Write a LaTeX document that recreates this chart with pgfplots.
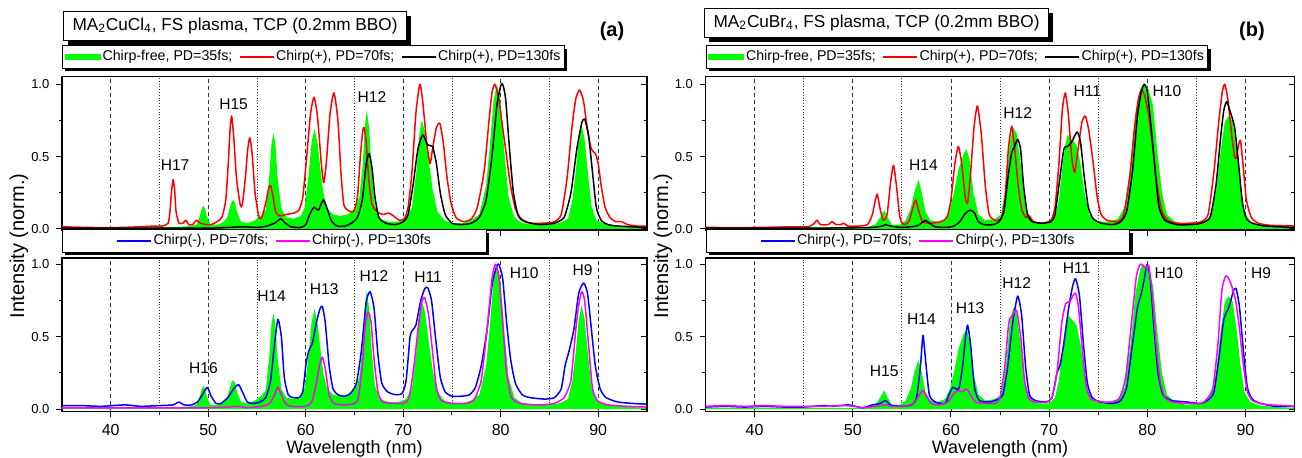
\documentclass[border=0pt]{standalone}
\usepackage{fontspec}
\setmainfont{Liberation Sans}
\usepackage{pgfplots}
\usepackage{pgfplotstable}
\pgfplotsset{compat=1.18}
\usetikzlibrary{shadows}

\definecolor{cfgreen}{RGB}{0,255,0}
\definecolor{cmag}{RGB}{255,0,255}
\newcommand\hfont{\fontsize{7.8}{9}\selectfont}
\makeatletter
\tikzset{noshadow/.code={\let\tikz@preactions\pgfutil@empty}}
\makeatother

% ---------- panel (a) ----------
\pgfplotstableread[row sep=\\]{x y\\
35 0.01\\ 40 0.01\\ 45 0.012\\ 47 0.015\\ 48.2 0.02\\ 48.8 0.03\\ 49.15 0.09\\ 49.33 0.14\\ 49.5 0.16\\ 49.67 0.14\\ 49.85 0.09\\ 50.2 0.03\\
51.0 0.03\\ 51.6 0.05\\ 51.95 0.08\\ 52.15 0.13\\ 52.35 0.18\\ 52.55 0.20\\ 52.75 0.18\\ 52.95 0.12\\ 53.35 0.05\\ 54.0 0.04\\ 54.8 0.06\\
55.4 0.09\\ 55.9 0.13\\ 56.25 0.36\\ 56.5 0.6\\ 56.7 0.66\\ 56.9 0.58\\ 57.1 0.36\\ 57.5 0.14\\ 58.0 0.08\\ 58.8 0.07\\ 59.5 0.09\\
59.9 0.15\\ 60.3 0.38\\ 60.6 0.6\\ 60.9 0.69\\ 61.2 0.6\\ 61.5 0.42\\ 61.8 0.25\\ 62.2 0.14\\ 62.8 0.10\\ 63.5 0.09\\ 64.3 0.10\\ 65.0 0.14\\
65.5 0.22\\ 65.85 0.45\\ 66.05 0.7\\ 66.26 0.82\\ 66.5 0.7\\ 66.75 0.42\\ 67.1 0.16\\ 67.6 0.07\\ 68.5 0.05\\ 69.5 0.05\\ 70.3 0.07\\
70.9 0.15\\ 71.35 0.4\\ 71.65 0.65\\ 71.9 0.75\\ 72.2 0.68\\ 72.6 0.48\\ 73.0 0.28\\ 73.5 0.12\\ 74.2 0.06\\ 75 0.04\\ 76 0.04\\ 77 0.06\\
77.8 0.1\\ 78.5 0.3\\ 78.85 0.55\\ 79.25 0.88\\ 79.6 1.0\\ 79.95 0.9\\ 80.35 0.55\\ 80.8 0.22\\ 81.4 0.08\\ 82.2 0.04\\ 84 0.03\\ 86 0.04\\
86.9 0.07\\ 87.35 0.2\\ 87.7 0.4\\ 88.0 0.62\\ 88.3 0.72\\ 88.6 0.62\\ 88.95 0.38\\ 89.3 0.16\\ 89.8 0.06\\ 90.5 0.04\\ 92 0.02\\ 95 0.01\\
}\greenA

\pgfplotstableread[row sep=\\]{x y\\
35 0.015\\ 38 0.01\\ 41 0.01\\ 43 0.015\\ 44.5 0.02\\ 45.3 0.02\\ 45.9 0.04\\ 46.1 0.14\\ 46.25 0.27\\ 46.4 0.34\\ 46.55 0.27\\ 46.7 0.12\\
47.0 0.04\\ 47.4 0.04\\ 47.7 0.06\\ 48.0 0.03\\ 48.4 0.03\\ 48.8 0.06\\ 49.2 0.04\\ 49.8 0.03\\ 50.3 0.03\\ 50.9 0.05\\ 51.4 0.08\\ 51.8 0.2\\
52.05 0.45\\ 52.25 0.7\\ 52.4 0.78\\ 52.6 0.65\\ 52.9 0.35\\ 53.3 0.16\\ 53.5 0.17\\ 53.8 0.35\\ 54.05 0.55\\ 54.26 0.63\\ 54.5 0.52\\
54.8 0.25\\ 55.2 0.08\\ 55.5 0.08\\ 55.9 0.18\\ 56.2 0.28\\ 56.4 0.30\\ 56.6 0.24\\ 56.9 0.12\\ 57.3 0.09\\ 58.0 0.1\\ 58.8 0.11\\ 59.3 0.13\\
59.7 0.22\\ 60.1 0.5\\ 60.5 0.8\\ 60.85 0.91\\ 61.2 0.78\\ 61.6 0.45\\ 61.85 0.32\\ 62.1 0.45\\ 62.5 0.8\\ 62.9 0.94\\ 63.3 0.75\\ 63.6 0.4\\
63.9 0.17\\ 64.3 0.13\\ 64.9 0.12\\ 65.3 0.22\\ 65.6 0.5\\ 65.85 0.68\\ 66.0 0.70\\ 66.2 0.6\\ 66.45 0.35\\ 66.8 0.17\\ 67.3 0.12\\ 67.9 0.1\\
68.5 0.11\\ 69.0 0.09\\ 69.6 0.06\\ 70.1 0.07\\ 70.5 0.15\\ 70.9 0.4\\ 71.3 0.8\\ 71.7 1.0\\ 72.0 0.88\\ 72.4 0.6\\ 72.75 0.45\\ 73.0 0.55\\
73.4 0.7\\ 73.75 0.73\\ 74.1 0.6\\ 74.5 0.35\\ 74.9 0.18\\ 75.4 0.08\\ 76.2 0.05\\ 77.0 0.07\\ 77.6 0.15\\ 78.3 0.4\\ 78.8 0.75\\ 79.1 0.94\\
79.4 1.0\\ 79.8 0.9\\ 80.2 0.7\\ 80.6 0.5\\ 81.0 0.3\\ 81.5 0.14\\ 82.1 0.07\\ 83 0.04\\ 84.5 0.04\\ 85.5 0.05\\ 86.2 0.1\\ 86.8 0.35\\
87.3 0.7\\ 87.7 0.9\\ 88.1 0.96\\ 88.5 0.88\\ 88.9 0.68\\ 89.3 0.55\\ 89.7 0.52\\ 90.0 0.45\\ 90.3 0.3\\ 90.7 0.15\\ 91.2 0.08\\ 91.8 0.05\\
92.4 0.05\\ 93 0.03\\ 94 0.02\\ 95 0.02\\
}\redA

\pgfplotstableread[row sep=\\]{x y\\
35 0.005\\ 45 0.005\\ 50 0.005\\ 52 0.01\\ 53.5 0.015\\ 55 0.01\\ 56 0.02\\ 56.8 0.04\\ 57.45 0.07\\ 57.9 0.04\\ 58.5 0.015\\ 59.5 0.01\\
60.0 0.03\\ 60.4 0.1\\ 60.85 0.15\\ 61.3 0.13\\ 61.8 0.2\\ 62.2 0.14\\ 62.6 0.06\\ 63.2 0.02\\ 64.0 0.02\\ 64.7 0.04\\ 65.3 0.08\\ 65.8 0.2\\
66.2 0.45\\ 66.5 0.52\\ 66.8 0.42\\ 67.1 0.22\\ 67.5 0.08\\ 68.2 0.04\\ 69.2 0.03\\ 70.0 0.05\\ 70.5 0.1\\ 71.0 0.3\\ 71.5 0.55\\ 72.0 0.65\\
72.5 0.58\\ 73.0 0.57\\ 73.4 0.45\\ 73.8 0.25\\ 74.3 0.1\\ 75.0 0.04\\ 76.0 0.03\\ 77.0 0.04\\ 77.8 0.08\\ 78.5 0.2\\ 79.1 0.5\\ 79.6 0.85\\
80.0 0.99\\ 80.2 1.0\\ 80.5 0.9\\ 80.9 0.55\\ 81.3 0.25\\ 81.8 0.09\\ 82.5 0.05\\ 84 0.03\\ 85.5 0.04\\ 86.5 0.08\\ 87.2 0.25\\ 87.8 0.55\\
88.3 0.73\\ 88.6 0.76\\ 89.0 0.65\\ 89.4 0.4\\ 89.8 0.15\\ 90.3 0.06\\ 91 0.03\\ 92 0.02\\ 95 0.01\\
}\blackA

\pgfplotstableread[row sep=\\]{x y\\
35 0.025\\ 37 0.025\\ 39 0.02\\ 41.5 0.03\\ 43 0.02\\ 45 0.025\\ 46.4 0.03\\ 47.0 0.05\\ 47.5 0.03\\ 48.3 0.03\\ 48.9 0.05\\ 49.4 0.1\\
49.9 0.15\\ 50.3 0.09\\ 50.8 0.04\\ 51.3 0.04\\ 52.0 0.08\\ 52.6 0.14\\ 53.1 0.17\\ 53.5 0.12\\ 54.0 0.05\\ 54.6 0.04\\ 55.3 0.05\\ 55.9 0.08\\
56.4 0.2\\ 56.8 0.45\\ 57.15 0.62\\ 57.5 0.5\\ 57.8 0.22\\ 58.2 0.1\\ 58.7 0.08\\ 59.3 0.08\\ 59.7 0.12\\ 60.0 0.3\\ 60.3 0.4\\ 60.7 0.46\\
61.1 0.6\\ 61.45 0.69\\ 61.7 0.71\\ 62.0 0.6\\ 62.4 0.3\\ 62.8 0.14\\ 63.3 0.1\\ 64.0 0.09\\ 64.6 0.11\\ 65.2 0.18\\ 65.7 0.4\\ 66.2 0.74\\
66.6 0.81\\ 67.0 0.7\\ 67.4 0.38\\ 67.8 0.18\\ 68.4 0.12\\ 69.2 0.1\\ 69.9 0.11\\ 70.3 0.2\\ 70.7 0.5\\ 71.0 0.55\\ 71.3 0.58\\ 71.8 0.75\\
72.2 0.83\\ 72.5 0.84\\ 72.9 0.75\\ 73.3 0.5\\ 73.8 0.22\\ 74.3 0.12\\ 75 0.09\\ 76 0.09\\ 76.8 0.1\\ 77.4 0.15\\ 78.0 0.3\\ 78.6 0.55\\
79.1 0.85\\ 79.5 0.97\\ 79.8 1.0\\ 80.2 0.9\\ 80.6 0.6\\ 81.0 0.35\\ 81.5 0.18\\ 82.2 0.1\\ 83 0.08\\ 84.5 0.07\\ 85.5 0.08\\ 86.2 0.14\\
86.6 0.3\\ 87.0 0.4\\ 87.5 0.55\\ 88.0 0.8\\ 88.5 0.87\\ 88.9 0.8\\ 89.3 0.55\\ 89.7 0.3\\ 90.2 0.14\\ 90.8 0.08\\ 92 0.05\\ 93.5 0.04\\ 95 0.035\\
}\blueA

\pgfplotstableread[row sep=\\]{x y\\
35 0.01\\ 45 0.01\\ 50 0.01\\ 52 0.015\\ 53 0.02\\ 54 0.01\\ 55.5 0.02\\ 56.3 0.04\\ 56.8 0.1\\ 57.15 0.15\\ 57.5 0.1\\ 57.9 0.04\\ 58.5 0.02\\
60.0 0.02\\ 60.6 0.05\\ 61.0 0.15\\ 61.4 0.3\\ 61.7 0.36\\ 62.0 0.28\\ 62.4 0.1\\ 62.9 0.04\\ 64 0.03\\ 65.0 0.04\\ 65.4 0.08\\ 65.8 0.3\\
66.1 0.58\\ 66.4 0.67\\ 66.7 0.6\\ 67.0 0.35\\ 67.4 0.12\\ 67.9 0.05\\ 69 0.04\\ 70.0 0.04\\ 70.6 0.08\\ 71.1 0.3\\ 71.6 0.6\\ 71.9 0.74\\
72.2 0.77\\ 72.6 0.65\\ 73.0 0.4\\ 73.4 0.15\\ 73.9 0.06\\ 75 0.04\\ 76.5 0.04\\ 77.3 0.07\\ 78.0 0.2\\ 78.6 0.55\\ 79.1 0.9\\ 79.45 1.0\\
79.8 0.92\\ 80.2 0.6\\ 80.6 0.25\\ 81.1 0.08\\ 82 0.04\\ 84 0.03\\ 85.5 0.04\\ 86.5 0.08\\ 87.2 0.2\\ 87.7 0.55\\ 88.0 0.72\\ 88.3 0.81\\
88.6 0.75\\ 89.0 0.45\\ 89.4 0.15\\ 89.9 0.06\\ 91 0.03\\ 93 0.02\\ 95 0.015\\
}\magA

% ---------- panel (b) ----------
\pgfplotstableread[row sep=\\]{x y\\
35 0.01\\ 45 0.01\\ 50 0.01\\ 51.5 0.015\\ 52.3 0.03\\ 52.8 0.08\\ 53.2 0.13\\ 53.55 0.08\\ 54.0 0.03\\ 54.8 0.03\\ 55.4 0.06\\ 55.9 0.14\\
56.3 0.26\\ 56.7 0.34\\ 57.0 0.26\\ 57.4 0.12\\ 57.9 0.06\\ 58.7 0.05\\ 59.4 0.07\\ 59.9 0.14\\ 60.3 0.25\\ 60.8 0.42\\ 61.3 0.52\\ 61.6 0.55\\
61.9 0.48\\ 62.3 0.25\\ 62.8 0.1\\ 63.5 0.06\\ 64.5 0.07\\ 65.1 0.1\\ 65.6 0.3\\ 66.0 0.6\\ 66.35 0.70\\ 66.7 0.66\\ 67.1 0.45\\ 67.5 0.2\\
68.0 0.08\\ 68.8 0.04\\ 70.0 0.04\\ 70.6 0.08\\ 71.0 0.2\\ 71.4 0.45\\ 71.7 0.6\\ 71.9 0.65\\ 72.3 0.62\\ 72.8 0.58\\ 73.2 0.45\\ 73.6 0.25\\
74.1 0.1\\ 74.8 0.05\\ 76 0.05\\ 77 0.07\\ 77.7 0.15\\ 78.3 0.45\\ 78.8 0.8\\ 79.3 0.97\\ 79.6 1.0\\ 80.1 0.97\\ 80.6 0.85\\ 81.0 0.55\\
81.5 0.25\\ 82.0 0.1\\ 82.8 0.05\\ 84 0.03\\ 85.5 0.04\\ 86.4 0.08\\ 87.0 0.25\\ 87.5 0.55\\ 87.9 0.74\\ 88.3 0.78\\ 88.7 0.74\\ 89.1 0.55\\
89.5 0.3\\ 89.9 0.12\\ 90.5 0.05\\ 91.5 0.025\\ 93 0.015\\ 95 0.01\\
}\greenB

\pgfplotstableread[row sep=\\]{x y\\
35 0.01\\ 40 0.01\\ 44 0.015\\ 45.5 0.015\\ 46.1 0.04\\ 46.36 0.06\\ 46.7 0.03\\ 47.5 0.03\\ 47.9 0.05\\ 48.3 0.03\\ 48.8 0.03\\ 49.1 0.04\\
49.5 0.02\\ 50.5 0.02\\ 51.5 0.03\\ 52.0 0.1\\ 52.3 0.2\\ 52.5 0.24\\ 52.75 0.15\\ 53.1 0.06\\ 53.5 0.1\\ 53.85 0.32\\ 54.15 0.44\\ 54.45 0.3\\
54.8 0.08\\ 55.2 0.03\\ 55.7 0.05\\ 56.1 0.14\\ 56.4 0.2\\ 56.7 0.13\\ 57.1 0.05\\ 58.0 0.04\\ 59.0 0.05\\ 59.6 0.08\\ 60.0 0.2\\ 60.4 0.45\\
60.76 0.57\\ 61.1 0.45\\ 61.45 0.22\\ 61.7 0.18\\ 62.0 0.38\\ 62.35 0.7\\ 62.7 0.85\\ 63.1 0.65\\ 63.5 0.3\\ 63.9 0.1\\ 64.5 0.06\\ 65.1 0.07\\
65.5 0.2\\ 65.85 0.55\\ 66.2 0.71\\ 66.5 0.55\\ 66.85 0.3\\ 67.2 0.14\\ 67.6 0.08\\ 68.0 0.09\\ 68.4 0.05\\ 69.3 0.04\\ 70.2 0.06\\ 70.6 0.15\\
71.0 0.45\\ 71.35 0.82\\ 71.65 0.94\\ 71.95 0.8\\ 72.3 0.5\\ 72.6 0.39\\ 72.95 0.55\\ 73.35 0.74\\ 73.7 0.78\\ 74.05 0.68\\ 74.5 0.45\\
74.9 0.22\\ 75.3 0.1\\ 75.9 0.06\\ 77 0.05\\ 77.6 0.1\\ 78.2 0.35\\ 78.7 0.7\\ 79.1 0.9\\ 79.4 0.96\\ 79.7 0.93\\ 80.1 0.8\\ 80.6 0.55\\
81.0 0.3\\ 81.5 0.12\\ 82.1 0.06\\ 83 0.04\\ 84.5 0.04\\ 85.5 0.05\\ 86.2 0.1\\ 86.8 0.4\\ 87.3 0.75\\ 87.65 0.95\\ 87.9 1.0\\ 88.2 0.9\\
88.6 0.65\\ 88.9 0.5\\ 89.07 0.49\\ 89.3 0.58\\ 89.5 0.61\\ 89.75 0.45\\ 90.1 0.2\\ 90.6 0.08\\ 91.3 0.04\\ 92.5 0.025\\ 95 0.02\\
}\redB

\pgfplotstableread[row sep=\\]{x y\\
35 0.005\\ 45 0.005\\ 50 0.008\\ 52 0.01\\ 53.0 0.02\\ 53.4 0.03\\ 53.8 0.02\\ 55 0.01\\ 56.5 0.02\\ 57.0 0.04\\ 57.4 0.06\\ 57.8 0.04\\
58.4 0.015\\ 59.5 0.01\\ 60.3 0.02\\ 60.9 0.05\\ 61.5 0.11\\ 62.0 0.13\\ 62.4 0.11\\ 62.8 0.05\\ 63.4 0.03\\ 64.3 0.03\\ 64.9 0.05\\ 65.4 0.12\\
65.8 0.35\\ 66.2 0.53\\ 66.5 0.57\\ 66.8 0.62\\ 67.1 0.55\\ 67.4 0.3\\ 67.8 0.1\\ 68.3 0.05\\ 69.3 0.04\\ 70.2 0.05\\ 70.6 0.1\\ 71.0 0.3\\
71.5 0.55\\ 71.9 0.57\\ 72.3 0.6\\ 72.85 0.67\\ 73.2 0.6\\ 73.6 0.35\\ 74.0 0.15\\ 74.5 0.07\\ 75.3 0.04\\ 76.5 0.03\\ 77.3 0.05\\ 77.9 0.12\\
78.5 0.4\\ 79.0 0.78\\ 79.4 0.95\\ 79.7 1.0\\ 80.0 0.95\\ 80.4 0.7\\ 80.8 0.4\\ 81.2 0.15\\ 81.8 0.06\\ 83 0.03\\ 84.5 0.03\\ 85.5 0.04\\
86.4 0.08\\ 87.0 0.3\\ 87.5 0.65\\ 87.8 0.82\\ 88.1 0.88\\ 88.5 0.8\\ 88.9 0.7\\ 89.3 0.45\\ 89.7 0.18\\ 90.1 0.07\\ 90.7 0.04\\ 92 0.02\\ 95 0.01\\
}\blackB

\pgfplotstableread[row sep=\\]{x y\\
35 0.015\\ 37 0.02\\ 39 0.015\\ 41 0.02\\ 43 0.015\\ 45 0.015\\ 47 0.025\\ 48 0.02\\ 49.5 0.03\\ 50.3 0.02\\ 51.0 0.01\\ 52.0 0.03\\
52.8 0.04\\ 53.35 0.06\\ 53.8 0.03\\ 55 0.02\\ 56.0 0.03\\ 56.5 0.08\\ 56.9 0.3\\ 57.15 0.51\\ 57.4 0.35\\ 57.8 0.1\\ 58.4 0.05\\ 59.4 0.04\\
59.8 0.1\\ 60.2 0.15\\ 60.8 0.14\\ 61.2 0.3\\ 61.5 0.5\\ 61.7 0.58\\ 62.0 0.45\\ 62.4 0.15\\ 62.9 0.06\\ 64.0 0.05\\ 64.8 0.07\\ 65.3 0.1\\
65.8 0.3\\ 66.3 0.6\\ 66.8 0.78\\ 67.2 0.65\\ 67.6 0.3\\ 68.0 0.1\\ 68.6 0.06\\ 69.7 0.05\\ 70.3 0.08\\ 70.8 0.25\\ 71.1 0.3\\ 71.5 0.45\\
72.0 0.7\\ 72.4 0.85\\ 72.7 0.90\\ 73.1 0.78\\ 73.5 0.45\\ 73.9 0.18\\ 74.4 0.08\\ 75.2 0.05\\ 76.5 0.04\\ 77.3 0.06\\ 77.9 0.15\\ 78.5 0.45\\
79.0 0.7\\ 79.4 0.8\\ 79.7 0.9\\ 80.0 1.0\\ 80.3 0.9\\ 80.7 0.55\\ 81.1 0.25\\ 81.6 0.1\\ 82.5 0.06\\ 84 0.05\\ 85.5 0.04\\ 86.3 0.07\\
86.8 0.12\\ 87.3 0.35\\ 87.8 0.62\\ 88.3 0.7\\ 88.8 0.82\\ 89.07 0.83\\ 89.4 0.7\\ 89.8 0.4\\ 90.2 0.15\\ 90.7 0.07\\ 91.5 0.04\\ 93 0.02\\ 95 0.02\\
}\blueB

\pgfplotstableread[row sep=\\]{x y\\
35 0.02\\ 37 0.025\\ 39 0.02\\ 41 0.025\\ 43 0.02\\ 45 0.02\\ 47 0.02\\ 49 0.025\\ 50.2 0.02\\ 51.0 0.01\\ 52.2 0.02\\ 53.4 0.03\\ 54 0.02\\
55.2 0.02\\ 56.2 0.04\\ 56.8 0.1\\ 57.15 0.13\\ 57.5 0.09\\ 58.0 0.04\\ 58.8 0.03\\ 59.7 0.05\\ 60.2 0.1\\ 60.7 0.13\\ 61.1 0.12\\ 61.6 0.14\\
62.0 0.1\\ 62.5 0.05\\ 63.5 0.04\\ 64.5 0.04\\ 65.0 0.08\\ 65.5 0.3\\ 65.9 0.6\\ 66.3 0.65\\ 66.7 0.68\\ 67.1 0.5\\ 67.5 0.2\\ 67.9 0.08\\
68.5 0.05\\ 69.8 0.05\\ 70.3 0.08\\ 70.8 0.25\\ 71.3 0.6\\ 71.7 0.73\\ 72.1 0.74\\ 72.4 0.78\\ 72.7 0.80\\ 73.0 0.7\\ 73.4 0.4\\ 73.8 0.15\\
74.3 0.07\\ 75.5 0.05\\ 76.5 0.05\\ 77.2 0.08\\ 77.8 0.22\\ 78.4 0.6\\ 78.9 0.92\\ 79.3 1.0\\ 79.7 0.98\\ 79.9 0.97\\ 80.15 0.99\\ 80.5 0.8\\
80.9 0.45\\ 81.3 0.2\\ 81.8 0.08\\ 82.6 0.05\\ 84 0.04\\ 85.5 0.04\\ 86.2 0.08\\ 86.7 0.15\\ 87.2 0.45\\ 87.6 0.82\\ 88.0 0.92\\ 88.3 0.9\\
88.6 0.85\\ 89.0 0.75\\ 89.4 0.55\\ 89.8 0.3\\ 90.2 0.12\\ 90.7 0.06\\ 91.5 0.04\\ 92.5 0.03\\ 94 0.025\\ 95 0.02\\
}\magB

\pgfplotsset{
  panel/.style={
    scale only axis, anchor=south west,
    xmin=35, xmax=95,
    xtick={40,50,...,90}, minor xtick={45,55,...,85},
    xmajorgrids, xminorgrids,
    major grid style={black!80, line width=0.4pt, dash pattern=on 2pt off 1.5pt},
    minor grid style={black!80, line width=0.4pt, dash pattern=on 0.4pt off 1pt},
    ytick={0,0.5,1}, minor ytick={0.25,0.75},
    ytick pos=left, xtick pos=left,
    tick align=outside,
    major tick length=2.8pt, minor tick length=1.6pt,
    tick style={black, line width=0.5pt},
    axis line style={line width=0.6pt},
    /pgf/number format/assume math mode=true,
    yticklabel style={font=\fontsize{6.5}{7}\selectfont,
      /pgf/number format/.cd, fixed, fixed zerofill, precision=1},
    xticklabel style={font=\fontsize{8}{9}\selectfont},
    legend cell align=left,
    legend columns=-1,
    legend image code/.code={\draw[noshadow,##1] (0pt,0pt) -- (17pt,0pt);},
    legend style={font=\fontsize{7.1}{8}\selectfont, draw=black, line width=0.5pt,
      fill=white, drop shadow={shadow xshift=1.5pt, shadow yshift=-1.5pt, fill=black, opacity=1},
      inner xsep=1.2pt, inner ysep=0.8pt, at={(0,1)}, anchor=south west,
      nodes={inner xsep=0.8pt, inner ysep=1.6pt},
      /tikz/every even column/.append style={column sep=2.5pt}},
  },
  rticks/.style={
    scale only axis, anchor=south west, xmin=35, xmax=95,
    hide x axis, axis y line*=right,
    ytick={0,0.5,1}, minor ytick={0.25,0.75}, yticklabels={},
    tick align=inside, major tick length=2.8pt, minor tick length=1.6pt,
    tick style={black, line width=0.5pt}, axis line style={line width=0.6pt},
  },
  xlab/.style={xlabel={Wavelength (nm)},
    xlabel style={font=\fontsize{9}{10}\selectfont, at={(axis description cs:0.5,0)},
      anchor=base, yshift=-21pt}},
  spec/.style={line width=0.75pt, smooth, tension=0.35, line join=round},
  gfill/.style={fill=cfgreen, draw=none,
    legend image code/.code={\fill[noshadow,cfgreen] (0pt,-1.7pt) rectangle (18pt,1.7pt);}},
}

\begin{document}
\begin{tikzpicture}
\path[use as bounding box] (0,0) rectangle (651pt,229pt);

% ===== (a) top =====
\begin{axis}[panel, at={(31pt,113.95pt)}, width=292.5pt, height=76.7pt,
  ymin=-0.008, ymax=1.052, xticklabels={}, legend style={yshift=3.85pt}]
\addplot[gfill] table {\greenA} \closedcycle;
\addlegendentry{Chirp-free, PD=35fs;}
\addplot[spec, red] table {\redA};
\addlegendentry{Chirp(+), PD=70fs;}
\addplot[spec, black] table {\blackA};
\addlegendentry{Chirp(+), PD=130fs}
\node[font=\hfont] at (axis cs:46.6,0.44) {H17};
\node[font=\hfont] at (axis cs:52.6,0.86) {H15};
\node[font=\hfont] at (axis cs:66.8,0.91) {H12};
\end{axis}
\begin{axis}[rticks, at={(31pt,113.95pt)}, width=292.5pt, height=76.7pt, ymin=-0.008, ymax=1.052]
\end{axis}

% ===== (a) bottom =====
\begin{axis}[panel, xlab, at={(31pt,23.15pt)}, width=292.5pt, height=76.85pt,
  ymin=-0.017, ymax=1.043, legend style={yshift=2.5pt, inner xsep=27pt}]
\addplot[gfill, forget plot] table {\greenA} \closedcycle;
\addplot[spec, blue] table {\blueA};
\addlegendentry{Chirp(-), PD=70fs;}
\addplot[spec, cmag] table {\magA};
\addlegendentry{Chirp(-), PD=130fs}
\node[font=\hfont] at (axis cs:49.5,0.28) {H16};
\node[font=\hfont] at (axis cs:56.5,0.78) {H14};
\node[font=\hfont] at (axis cs:61.9,0.83) {H13};
\node[font=\hfont] at (axis cs:67.0,0.92) {H12};
\node[font=\hfont] at (axis cs:72.55,0.91) {H11};
\node[font=\hfont] at (axis cs:82.4,0.94) {H10};
\node[font=\hfont] at (axis cs:88.4,0.96) {H9};
\end{axis}
\begin{axis}[rticks, at={(31pt,23.15pt)}, width=292.5pt, height=76.85pt, ymin=-0.017, ymax=1.043]
\end{axis}

% ===== (b) top =====
\begin{axis}[panel, at={(352.75pt,113.95pt)}, width=294.5pt, height=76.7pt,
  ymin=-0.008, ymax=1.052, xticklabels={}, legend style={yshift=3.85pt}]
\addplot[gfill] table {\greenB} \closedcycle;
\addlegendentry{Chirp-free, PD=35fs;}
\addplot[spec, red] table {\redB};
\addlegendentry{Chirp(+), PD=70fs;}
\addplot[spec, black] table {\blackB};
\addlegendentry{Chirp(+), PD=130fs}
\node[font=\hfont] at (axis cs:57.2,0.44) {H14};
\node[font=\hfont] at (axis cs:66.8,0.80) {H12};
\node[font=\hfont] at (axis cs:73.9,0.95) {H11};
\node[font=\hfont] at (axis cs:82.0,0.95) {H10};
\end{axis}
\begin{axis}[rticks, at={(352.75pt,113.95pt)}, width=294.5pt, height=76.7pt, ymin=-0.008, ymax=1.052]
\end{axis}

% ===== (b) bottom =====
\begin{axis}[panel, xlab, at={(352.75pt,23.15pt)}, width=294.5pt, height=76.85pt,
  ymin=-0.017, ymax=1.043, legend style={yshift=2.5pt, inner xsep=27pt}]
\addplot[gfill, forget plot] table {\greenB} \closedcycle;
\addplot[spec, blue] table {\blueB};
\addlegendentry{Chirp(-), PD=70fs;}
\addplot[spec, cmag] table {\magB};
\addlegendentry{Chirp(-), PD=130fs}
\node[font=\hfont] at (axis cs:53.2,0.26) {H15};
\node[font=\hfont] at (axis cs:57.0,0.62) {H14};
\node[font=\hfont] at (axis cs:61.95,0.70) {H13};
\node[font=\hfont] at (axis cs:66.7,0.87) {H12};
\node[font=\hfont] at (axis cs:72.8,0.97) {H11};
\node[font=\hfont] at (axis cs:82.2,0.94) {H10};
\node[font=\hfont] at (axis cs:91.6,0.94) {H9};
\end{axis}
\begin{axis}[rticks, at={(352.75pt,23.15pt)}, width=294.5pt, height=76.85pt, ymin=-0.017, ymax=1.043]
\end{axis}

% titles, panel letters, y labels
\node[draw, fill=white, line width=0.5pt, anchor=west, inner xsep=4.5pt, minimum height=14pt,
  drop shadow={shadow xshift=2pt, shadow yshift=-2.2pt, fill=black, opacity=1},
  font=\fontsize{8.6}{10}\selectfont] at (31.5pt,216pt)
  {MA\textsubscript{2}CuCl\textsubscript{4}, FS plasma, TCP (0.2mm BBO)};
\node[draw, fill=white, line width=0.5pt, anchor=west, inner xsep=4.5pt, minimum height=14pt,
  drop shadow={shadow xshift=2pt, shadow yshift=-2.2pt, fill=black, opacity=1},
  font=\fontsize{8.6}{10}\selectfont] at (352pt,217.5pt)
  {MA\textsubscript{2}CuBr\textsubscript{4}, FS plasma, TCP (0.2mm BBO)};
\node[font=\bfseries\fontsize{10}{12}\selectfont] at (306pt,213.5pt) {(a)};
\node[font=\bfseries\fontsize{10}{12}\selectfont] at (626pt,213.5pt) {(b)};
\node[rotate=90, font=\fontsize{10}{12}\selectfont] at (9.5pt,106pt) {Intensity (norm.)};
\node[rotate=90, font=\fontsize{10}{12}\selectfont] at (331.5pt,106pt) {Intensity (norm.)};
\end{tikzpicture}
\end{document}
